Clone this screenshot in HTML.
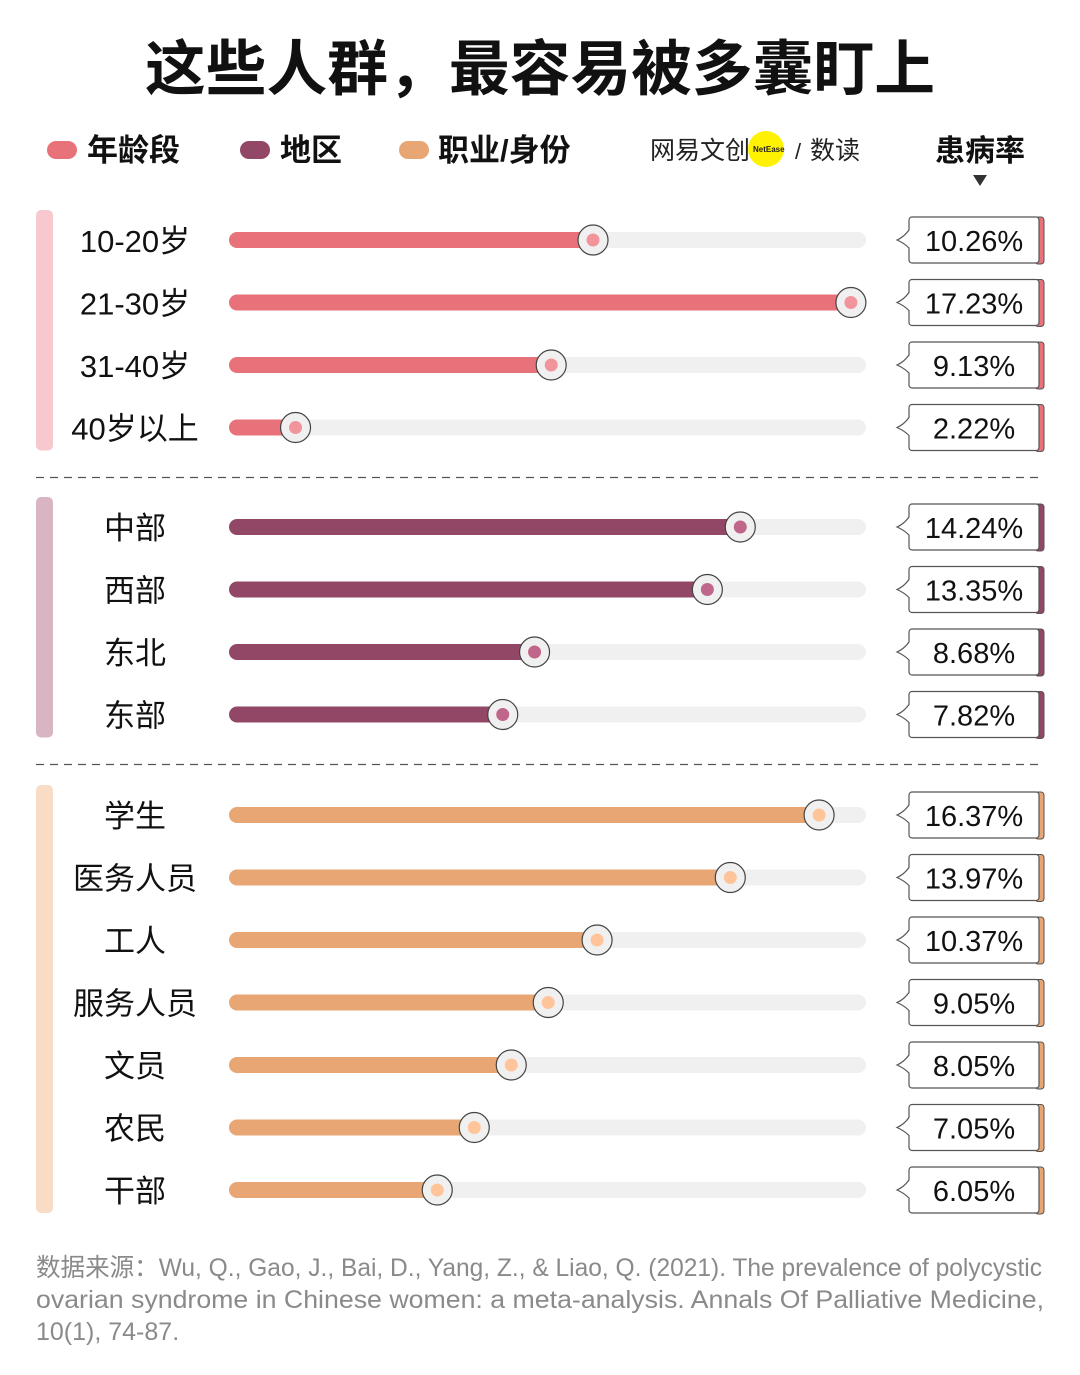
<!DOCTYPE html>
<html><head><meta charset="utf-8">
<style>
html,body{margin:0;padding:0;background:#fff;}
body{width:1080px;height:1370px;overflow:hidden;font-family:"Liberation Sans","Noto Sans CJK SC",sans-serif;}
svg text{font-family:"Liberation Sans","Noto Sans CJK SC",sans-serif;}
</style></head>
<body>
<svg id="chart" width="1080" height="1370" viewBox="0 0 1080 1370" xmlns="http://www.w3.org/2000/svg">
<text x="145" y="90" textLength="790" lengthAdjust="spacingAndGlyphs" font-size="60" font-weight="bold" fill="#111">这些人群，最容易被多囊盯上</text>
<g>
<rect x="47" y="141" width="30" height="18" rx="9" fill="#e8727a"/>
<text x="87" y="161" font-size="31" font-weight="bold" fill="#111">年龄段</text>
<rect x="240" y="141" width="30" height="18" rx="9" fill="#924766"/>
<text x="280" y="161" font-size="31" font-weight="bold" fill="#111">地区</text>
<rect x="399" y="141" width="30" height="18" rx="9" fill="#e8a674"/>
<text x="438" y="161" font-size="31" font-weight="bold" fill="#111">职业/身份</text>
</g>
<g>
<text x="650" y="159" font-size="25" fill="#222">网易文创</text>
<circle cx="766" cy="149" r="18" fill="#fff200"/>
<text x="753" y="152" font-size="8" font-weight="bold" fill="#222">NetEase</text>
<text x="795" y="159" font-size="22" fill="#222">/</text>
<text x="810" y="159" font-size="25" fill="#222">数读</text>
</g>
<text x="980" y="161" text-anchor="middle" font-size="30" font-weight="bold" fill="#111">患病率</text>
<path d="M973 175 L987 175 L980 186 Z" fill="#333"/>
<g id="rows"></g>
<text font-size="25" fill="#8a8a8a">
<tspan x="36" y="1276" textLength="1006" lengthAdjust="spacingAndGlyphs">数据来源：Wu, Q., Gao, J., Bai, D., Yang, Z., &amp; Liao, Q. (2021). The prevalence of polycystic</tspan>
<tspan x="36" y="1308" textLength="1008" lengthAdjust="spacingAndGlyphs">ovarian syndrome in Chinese women: a meta-analysis. Annals Of Palliative Medicine,</tspan>
<tspan x="36" y="1340">10(1), 74-87.</tspan>
</text>
</svg>
<script>
const ageCats=["10-20岁","21-30岁","31-40岁","40岁以上"];
const ageVals=[10.26,17.23,9.13,2.22];
const regionCats=["中部","西部","东北","东部"];
const regionVals=[14.24,13.35,8.68,7.82];
const occCats=["学生","医务人员","工人","服务人员","文员","农民","干部"];
const occVals=[16.37,13.97,10.37,9.05,8.05,7.05,6.05];

const NS="http://www.w3.org/2000/svg";
const g=document.getElementById('rows');
function el(tag,attrs,parent){const e=document.createElementNS(NS,tag);for(const k in attrs)e.setAttribute(k,attrs[k]);(parent||g).appendChild(e);return e;}
const xScale=v=>213.4+37*v;
const groups=[
 {cats:ageCats,vals:ageVals,y0:240,color:"#e8727a",dot:"#f2949c",side:"#f7c9cf",name:"age"},
 {cats:regionCats,vals:regionVals,y0:527,color:"#924766",dot:"#c0668a",side:"#d9b5c4",name:"region"},
 {cats:occCats,vals:occVals,y0:815,color:"#e8a674",dot:"#ffc49a",side:"#f8dcc6",name:"occupation"}
];
const step=62.5;
groups.forEach((gr,gi)=>{
  const n=gr.cats.length;
  const side=el('rect',{x:36,y:gr.y0-30,width:17,height:(n-1)*step+53,rx:5,fill:gr.side});
  
  
  if(gi<2){
    const ly=gr.y0+(n-1)*step+50;
    const d=el('line',{x1:36,x2:1044,y1:ly,y2:ly,stroke:"#555","stroke-width":1.2,"stroke-dasharray":"8 6"});
    
    
  }
  gr.cats.forEach((c,i)=>{
    const y=gr.y0+i*step, v=gr.vals[i], x=xScale(v);
    const lab=el('text',{x:135,y:y+12,"text-anchor":"middle","font-size":31,fill:"#111"});
    lab.textContent=c;
    
    
    const tr=el('rect',{x:229,y:y-8,width:637,height:16,rx:8,fill:"#f0f0f0"});
    
    
    const b=el('rect',{x:229,y:y-8,width:x-229,height:16,rx:8,fill:gr.color});
    
    
    const k=el('circle',{cx:x,cy:y,r:15,fill:"#f0f0f0",stroke:"#444","stroke-width":1.2});
    
    
    const kd=el('circle',{cx:x,cy:y,r:6.5,fill:gr.dot});
    
    
    const acc=el('rect',{x:1035,y:y-23,width:9,height:47,rx:3,fill:gr.color,stroke:"#555","stroke-width":1});
    
    
    const bx=el('path',{d:`M912 ${y-23} H1036 a3 3 0 0 1 3 3 V${y+20} a3 3 0 0 1 -3 3 H912 a3 3 0 0 1 -3 -3 V${y+8} Q904 ${y+3} 897 ${y} Q904 ${y-3} 909 ${y-10} V${y-20} a3 3 0 0 1 3 -3 Z`,fill:"#fff",stroke:"#555","stroke-width":1.2});
    
    
    const t=el('text',{x:974,y:y+11,"text-anchor":"middle","font-size":29,fill:"#111"});
    t.textContent=v.toFixed(2)+"%";
    
    
  });
});
</script>
</body></html>
